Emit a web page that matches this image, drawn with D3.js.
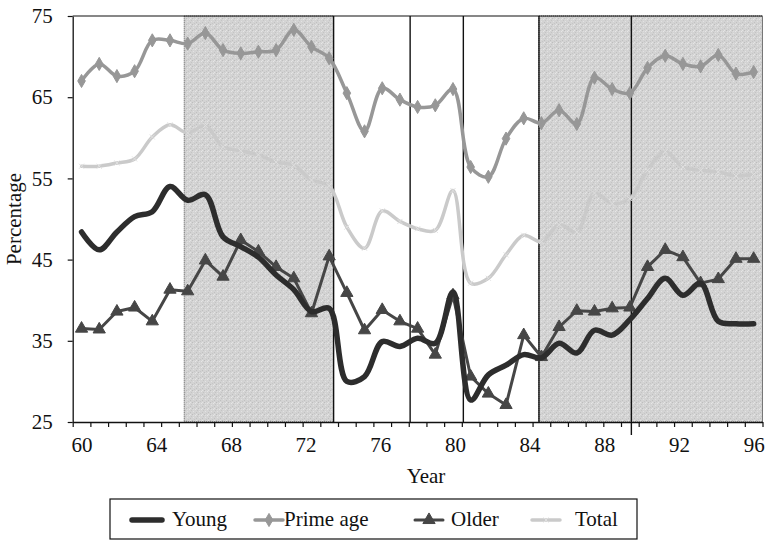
<!DOCTYPE html>
<html>
<head>
<meta charset="utf-8">
<script src="https://cdn.jsdelivr.net/npm/d3@7"></script>
<style>
  body { margin: 0; background: #fff; }
  text { font-family: "Liberation Serif", "DejaVu Serif", serif; fill: #111; }
</style>
</head>
<body>
<script>
// DATA -----------------------------------------------------------------------

var young = [48.4, 46.2, 48.4, 50.3, 50.9, 54.0, 52.3, 53.0, 47.8, 46.6,
             45.3, 43.1, 41.3, 38.6, 39.0, 30.0, 30.6, 34.9, 34.3, 35.3,
             34.7, 41.0, 27.7, 30.8, 32.0, 33.3, 32.9, 34.7, 33.5, 36.3,
             35.7, 37.6, 40.2, 42.7, 40.6, 42.1, 37.4, 37.1, 37.1];
var primeAge = [67.0, 69.1, 67.6, 68.2, 72.0, 72.0, 71.6, 72.9, 70.8, 70.4,
                70.6, 70.8, 73.3, 71.2, 69.8, 65.5, 60.8, 66.1, 64.7, 63.8,
                64.0, 66.0, 56.4, 55.2, 59.9, 62.4, 61.8, 63.4, 61.7, 67.4,
                66.0, 65.5, 68.6, 70.1, 69.1, 68.8, 70.2, 67.9, 68.1];
var older = [36.5, 36.4, 38.6, 39.1, 37.4, 41.3, 41.1, 44.9, 42.9, 47.4,
             46.0, 44.1, 42.7, 38.4, 45.4, 40.9, 36.3, 38.8, 37.4, 36.5,
             33.3, 40.6, 30.6, 28.5, 27.1, 35.7, 33.0, 36.7, 38.7, 38.6,
             39.0, 39.1, 44.1, 46.2, 45.3, 42.1, 42.6, 45.1, 45.1];
var total = [56.5, 56.5, 56.9, 57.4, 60.1, 61.6, 60.6, 61.5, 58.9, 58.4,
             57.9, 57.0, 56.6, 54.8, 54.1, 49.0, 46.4, 51.0, 49.7, 48.8,
             48.6, 53.5, 42.1, 42.7, 45.6, 48.0, 47.2, 49.3, 48.4, 53.2,
             51.9, 52.5, 56.0, 58.3, 56.4, 56.0, 55.8, 55.3, 55.5];

var yearTicks = [60, 64, 68, 72, 76, 80, 84, 88, 92, 96];
var yTicks = [25, 35, 45, 55, 65, 75];
var shadeSpans = [[65.5, 73.5], [84.5, 97]];   // in year units
var cycleLines = [73.5, 77.6, 80.45, 84.5, 89.45];


// LAYOUT ---------------------------------------------------------------------

var W = 766, H = 540;
var pLeft = 72.7, pRight = 762.5, pTop = 16, pBottom = 422;
var n = young.length;
var fs = 21; // font size used everywhere

var svg = d3.select("body").append("svg")
    .attr("width", W).attr("height", H);

// category positions: ticks between observations, points in the middle
var xc = d3.scaleLinear().domain([0, n]).range([pLeft, pRight]);
// year labels run from the first to the last observation
var xYear = d3.scaleLinear().domain([60, 96]).range([xc(0.5), xc(n - 0.5)]);
var y = d3.scaleLinear().domain([25, 75]).range([pBottom, pTop]);

// speckled fill for the shaded periods
var defs = svg.append("defs");
var pat = defs.append("pattern").attr("id", "speck")
    .attr("patternUnits", "userSpaceOnUse").attr("width", 6).attr("height", 6);
pat.append("rect").attr("width", 6).attr("height", 6).attr("fill", "#d3d3d3");
[[0,0,"#bdbdbd"],[3,1,"#e6e6e6"],[1,3,"#e2e2e2"],[4,4,"#c0c0c0"],
 [2,5,"#c6c6c6"],[5,2,"#c4c4c4"],[1,1,"#dedede"],[4,0,"#e4e4e4"]].forEach(function(p) {
    pat.append("rect").attr("x", p[0]).attr("y", p[1])
       .attr("width", 1).attr("height", 1).attr("fill", p[2]);
});

svg.selectAll(".shade").data(shadeSpans).enter()
    .append("rect")
    .attr("class", "shade")
    .attr("x", function(d) { return xYear(d[0]); })
    .attr("y", pTop)
    .attr("width", function(d) { return Math.min(xYear(d[1]), pRight) - xYear(d[0]); })
    .attr("height", pBottom - pTop)
    .attr("fill", "url(#speck)")
    .attr("stroke", "#555")
    .attr("stroke-dasharray", "1,1")
    .attr("stroke-width", 1);

svg.selectAll(".cycle").data(cycleLines).enter()
    .append("line")
    .attr("x1", function(d) { return xYear(d); })
    .attr("x2", function(d) { return xYear(d); })
    .attr("y1", pTop)
    .attr("y2", function(d, i) { return i == cycleLines.length - 1 ? pBottom + 13 : pBottom; })
    .attr("stroke", "#111")
    .attr("stroke-width", 1.4);

// frame top and right
svg.append("line").attr("x1", pLeft).attr("x2", pRight).attr("y1", pTop).attr("y2", pTop)
    .attr("stroke", "#111").attr("stroke-width", 1.2);
svg.append("line").attr("x1", pRight).attr("x2", pRight).attr("y1", pTop).attr("y2", pBottom)
    .attr("stroke", "#777").attr("stroke-width", 1);


// AXES -----------------------------------------------------------------------

var xTickAxis = svg.append("g")
    .attr("transform", "translate(0," + pBottom + ")")
    .call(d3.axisBottom(xc).tickValues(d3.range(n + 1)).tickFormat("")
          .tickSize(5).tickSizeOuter(0));
xTickAxis.select(".domain").attr("stroke", "#111").attr("stroke-width", 1.3);
xTickAxis.selectAll(".tick line").attr("stroke", "#111").attr("stroke-width", 1.2);

var xLabAxis = svg.append("g")
    .attr("transform", "translate(0," + pBottom + ")")
    .call(d3.axisBottom(xYear).tickValues(yearTicks).tickSize(0).tickPadding(15));
xLabAxis.select(".domain").remove();
xLabAxis.selectAll("text").attr("font-size", fs)
    .attr("font-family", "Liberation Serif, serif").attr("fill", "#111");

var yAxis = svg.append("g")
    .attr("transform", "translate(" + pLeft + ",0)")
    .call(d3.axisLeft(y).tickValues(yTicks).tickSize(5).tickSizeOuter(0).tickPadding(15));
yAxis.select(".domain").attr("stroke", "#111").attr("stroke-width", 1.3);
yAxis.selectAll(".tick line").attr("stroke", "#111").attr("stroke-width", 1.2);
yAxis.selectAll("text").attr("font-size", fs)
    .attr("font-family", "Liberation Serif, serif").attr("fill", "#111");

svg.append("text").attr("x", 426).attr("y", 483)
    .attr("text-anchor", "middle").attr("font-size", fs).text("Year");
svg.append("text")
    .attr("transform", "translate(21," + ((pTop + pBottom) / 2) + ") rotate(-90)")
    .attr("text-anchor", "middle").attr("font-size", fs).text("Percentage");


// SERIES ---------------------------------------------------------------------

var series = [
    { name: "Total",     values: total,    color: "#cacaca", width: 3.5, marker: "x",   smooth: true },
    { name: "Prime age", values: primeAge, color: "#979797", width: 3.5, marker: "dia", smooth: true },
    { name: "Older",     values: older,    color: "#464646", width: 3,   marker: "tri", smooth: false },
    { name: "Young",     values: young,    color: "#2d2d2d", width: 5.5, marker: null,  smooth: true }
];

function markerPath(kind) {
    if (kind == "dia") return d3.symbol().type(d3.symbolDiamond).size(50)();
    if (kind == "tri") return d3.symbol().type(d3.symbolTriangle).size(65)();
    if (kind == "x") return "M-2.5,-2.5L2.5,2.5M-2.5,2.5L2.5,-2.5";
    return null;
}

series.forEach(function(s) {
    var line = d3.line()
        .x(function(d, i) { return xc(i + 0.5); })
        .y(function(d) { return y(d); })
        .curve(s.smooth ? d3.curveCatmullRom.alpha(0.5) : d3.curveLinear);
    svg.append("path").datum(s.values)
        .attr("d", line)
        .attr("fill", "none")
        .attr("stroke", s.color)
        .attr("stroke-width", s.width)
        .attr("stroke-linejoin", "round")
        .attr("stroke-linecap", "round");
    if (s.marker) {
        svg.selectAll(null).data(s.values).enter()
            .append("path")
            .attr("d", markerPath(s.marker))
            .attr("transform", function(d, i) { return "translate(" + xc(i + 0.5) + "," + y(d) + ")"; })
            .attr("fill", s.marker == "x" ? "none" : s.color)
            .attr("stroke", s.marker == "x" ? "#e0e0e0" : s.color)
            .attr("stroke-width", 1);
    }
});


// LEGEND ---------------------------------------------------------------------

svg.append("rect").attr("x", 110).attr("y", 499).attr("width", 527).attr("height", 40)
    .attr("fill", "#fff").attr("stroke", "#111").attr("stroke-width", 1.2);

var legendItems = [
    { s: series[3], x0: 132, x1: 162, tx: 172 },
    { s: series[1], x0: 255, x1: 283, tx: 284 },
    { s: series[2], x0: 415, x1: 443, tx: 451 },
    { s: series[0], x0: 532, x1: 560, tx: 575 }
];
legendItems.forEach(function(it) {
    svg.append("line").attr("x1", it.x0).attr("x2", it.x1).attr("y1", 520).attr("y2", 520)
        .attr("stroke", it.s.color).attr("stroke-width", it.s.width)
        .attr("stroke-linecap", "round");
    if (it.s.marker) {
        svg.append("path").attr("d", markerPath(it.s.marker))
            .attr("transform", "translate(" + ((it.x0 + it.x1) / 2) + ",520)")
            .attr("fill", it.s.marker == "x" ? "none" : it.s.color)
            .attr("stroke", it.s.marker == "x" ? "#e0e0e0" : it.s.color);
    }
    svg.append("text").attr("x", it.tx).attr("y", 526).attr("font-size", fs).text(it.s.name);
});
</script>
</body>
</html>
